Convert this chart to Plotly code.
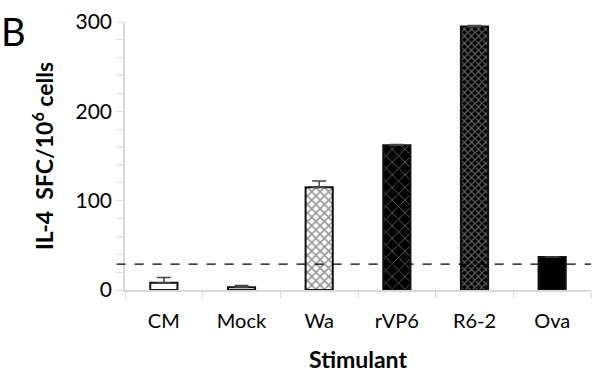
import plotly.graph_objects as go

categories = ["CM", "Mock", "Wa", "rVP6", "R6-2", "Ova"]
values = [8, 3, 115, 162, 295, 37]
errors_up = [6, 2, 7, 1, 1, 0]
threshold = 29
y_ticks = [0, 100, 200, 300]

pattern_shapes = ["", "", "x", "x", "x", ""]
bar_colors = ["white", "white", "white", "black", "black", "black"]
pattern_fg = ["black", "black", "#2a2a2a", "#b8b8b8", "#c8c8c8", "black"]
pattern_size = [6, 6, 6, 9, 5, 6]
pattern_solid = [0.3, 0.3, 0.45, 0.2, 0.4, 0.3]

FONT = "Lato"

fig = go.Figure()
for i, cat in enumerate(categories):
    fig.add_trace(go.Bar(
        x=[cat], y=[values[i]], width=0.35,
        marker=dict(
            color=bar_colors[i],
            line=dict(color="#111111", width=2),
            pattern=dict(shape=pattern_shapes[i], fgcolor=pattern_fg[i],
                         size=pattern_size[i], solidity=pattern_solid[i],
                         fillmode="overlay"),
        ),
        error_y=dict(type="data", symmetric=False, array=[errors_up[i]],
                     arrayminus=[0], color="#444444", thickness=1.5, width=7),
        showlegend=False,
    ))

fig.add_shape(type="line", xref="paper", yref="y", x0=-0.018, x1=1.0,
              y0=threshold, y1=threshold,
              line=dict(color="black", width=1.2, dash="dash"))

fig.add_annotation(text="B", xref="paper", yref="paper", x=-0.27, y=1.06,
                   xanchor="left", yanchor="top", showarrow=False,
                   font=dict(family=FONT, size=38, color="black"))

fig.update_layout(
    width=592, height=380,
    margin=dict(l=125, r=1, t=22, b=90),
    paper_bgcolor="white", plot_bgcolor="white",
    font=dict(family=FONT, size=20, color="black"),
    barmode="overlay",
)
fig.update_xaxes(
    categoryorder="array", categoryarray=categories,
    showline=True, linecolor="#d9d9d9", linewidth=1.5,
    ticks="outside", tickson="boundaries", ticklen=7, tickcolor="#d9d9d9",
    tickfont=dict(size=20), showgrid=False, ticklabelstandoff=12,
    title=dict(text="<b>Stimulant</b>", font=dict(size=23), standoff=21),
)
fig.update_yaxes(
    range=[0, 300], tickvals=y_ticks, showline=True, linecolor="#d9d9d9", linewidth=1.5,
    ticks="outside", ticklen=7, tickcolor="#d9d9d9",
    minor=dict(dtick=20, ticks="outside", ticklen=7, tickcolor="#d9d9d9", showgrid=False),
    showgrid=False, zeroline=False, tickfont=dict(size=21),
    title=dict(text="<b>IL-4  SFC/10<sup>6</sup> cells</b>", font=dict(size=23), standoff=15),
)

fig.write_html("out.html")
